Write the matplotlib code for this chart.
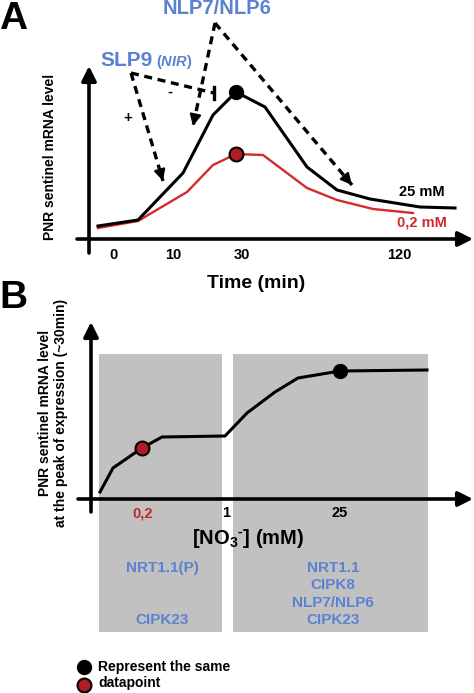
import matplotlib
matplotlib.use("Agg")
import matplotlib.pyplot as plt
from matplotlib.patches import Rectangle

plt.rcParams['font.family'] = ['Liberation Sans', 'DejaVu Sans']
plt.rcParams['font.weight'] = 'bold'
plt.rcParams['mathtext.fontset'] = 'custom'
plt.rcParams['mathtext.rm'] = 'Liberation Sans:bold'
plt.rcParams['mathtext.bf'] = 'Liberation Sans:bold'
plt.rcParams['mathtext.it'] = 'Liberation Sans:bold:italic'
plt.rcParams['mathtext.default'] = 'bf'

# ---------------- data (schematic units) ----------------
# Panel A: time course (x = schematic position, y = relative level)
time_x_25 = [9, 49, 94, 124, 147, 176, 218, 248, 281, 331, 366]
level_25 = [13, 19, 66, 124, 147, 132, 72, 49, 40, 32, 31]
time_x_02 = [9, 49, 98, 124, 147, 174, 218, 248, 284, 324]
level_02 = [11, 18, 47, 74, 85, 84, 51, 39, 30, 26]
peak_x = 147
peak_25 = 147
peak_02 = 85
a_tick_pos = [24, 84, 153, 310]
a_tick_labels = ['0', '10', '30', '120']

# Panel B: dose response at peak
conc_x = [9, 22, 51, 71, 134, 156, 184, 207, 249, 336]
resp = [7, 31, 51, 62, 63, 86, 107, 121, 128, 129]
b_tick_pos = [52, 135, 249]
b_tick_labels = ['0,2', '1', '25']
b_tick_colors = ['#c0282d', 'black', 'black']
red_pt = (51, 51)
black_pt = (249, 128)
regions = [(8, 131), (142, 337)]
region_ymin, region_ymax = -133, 145

BLUE = '#5b82d2'
RED = '#d42a2a'
DOTRED = '#b01c24'
GRAY = '#c1c1c1'

W, H = 474, 693
fig = plt.figure(figsize=(W / 100, H / 100), dpi=100)


def add_axes_px(x0, x1, y0, y1):
    return fig.add_axes([x0 / W, 1 - y1 / H, (x1 - x0) / W, (y1 - y0) / H])


def ftext(px, py, s, **kw):
    return fig.text(px / W, 1 - py / H, s, **kw)


def axis_arrow(ax, p0, p1):
    ax.annotate('', xy=p1, xytext=p0, annotation_clip=False,
                arrowprops=dict(arrowstyle='-|>', lw=2.6, color='black',
                                mutation_scale=22, shrinkA=0, shrinkB=0))


def dashed_arrow(ax, p0, p1, head=True):
    ax.plot([p0[0], p1[0]], [p0[1], p1[1]], ls=(0, (2.4, 1.7)), lw=2.4,
            color='black', clip_on=False, solid_capstyle='butt')
    if head:
        dx, dy = p1[0] - p0[0], p1[1] - p0[1]
        n = (dx * dx + dy * dy) ** 0.5
        q = (p1[0] - dx / n * 6, p1[1] - dy / n * 6)
        ax.annotate('', xy=p1, xytext=q, annotation_clip=False,
                    arrowprops=dict(arrowstyle='-|>', lw=1.5, color='black',
                                    mutation_scale=17, shrinkA=0, shrinkB=0))


# ---------------- Panel A ----------------
axA = add_axes_px(77, 473, 60, 262)
axA.set_xlim(-12, 384)
axA.set_ylim(-23, 179)
axA.axis('off')

axA.plot(time_x_02, level_02, color=RED, lw=1.7, zorder=3)
axA.plot(time_x_25, level_25, color='black', lw=2.2, zorder=3)
axA.plot([peak_x], [peak_25], 'o', ms=10, color='black', zorder=5)
axA.plot([peak_x], [peak_02], 'o', ms=10, mfc=DOTRED, mec='black', mew=1.5, zorder=5)

axis_arrow(axA, (0, -14), (0, 173))
axis_arrow(axA, (-12, 0), (384, 0))

for p, lab in zip(a_tick_pos, a_tick_labels):
    axA.text(p, -16, lab, ha='center', va='center', fontsize=10.5,
             fontweight='bold', clip_on=False)

# regulatory arrows
slp = (42, 166)
nlp = (126, 216)
dashed_arrow(axA, slp, (74, 58))
dashed_arrow(axA, slp, (125, 146), head=False)
axA.plot([125, 125], [140, 152], color='black', lw=2.4, clip_on=False)
dashed_arrow(axA, nlp, (104, 113))
dashed_arrow(axA, nlp, (263, 54))
axA.text(39, 121, '+', ha='center', va='center', fontsize=11, clip_on=False)
axA.text(81, 147, '-', ha='center', va='center', fontsize=11, clip_on=False)

ftext(217, 8, 'NLP7/NLP6', ha='center', va='center', fontsize=14.5, color=BLUE)
ftext(153, 61, 'SLP9', ha='right', va='center', fontsize=15, color=BLUE)
ftext(156, 62, r'($\mathit{NIR}$)', ha='left', va='center', fontsize=10.5, color=BLUE)

ftext(422, 192, '25 mM', ha='center', va='center', fontsize=10.5)
ftext(422, 223, '0,2 mM', ha='center', va='center', fontsize=10.5, color=RED)
ftext(256, 283, 'Time (min)', ha='center', va='center', fontsize=14)
ftext(50, 157, 'PNR sentinel mRNA level', ha='center', va='center',
      fontsize=10, rotation=90)
ftext(-1, 1, 'A', ha='left', va='top', fontsize=28)

# ---------------- Panel B ----------------
axB = add_axes_px(78, 473, 318, 640)
axB.set_xlim(-13, 382)
axB.set_ylim(-141, 181)
axB.axis('off')

for x0, x1 in regions:
    axB.add_patch(Rectangle((x0, region_ymin), x1 - x0, region_ymax - region_ymin,
                            facecolor=GRAY, edgecolor='none', zorder=0))

axB.plot(conc_x, resp, color='black', lw=2.2, zorder=3)
axB.plot([red_pt[0]], [red_pt[1]], 'o', ms=10, mfc=DOTRED, mec='black', mew=1.5, zorder=5)
axB.plot([black_pt[0]], [black_pt[1]], 'o', ms=10, color='black', zorder=5)

axis_arrow(axB, (0, -13), (0, 177))
axis_arrow(axB, (-13, 0), (382, 0))

for p, lab, c in zip(b_tick_pos, b_tick_labels, b_tick_colors):
    axB.text(p, -14, lab, ha='center', va='center', fontsize=10.5,
             color=c, clip_on=False)

ftext(248, 538, '[NO$_3$$^{\u2010}$] (mM)', ha='center', va='center', fontsize=14.5)
ftext(53, 413, 'PNR sentinel mRNA level\nat the peak of expression (~30min)',
      ha='center', va='center', fontsize=10, rotation=90, linespacing=1.1)
ftext(-1, 280, 'B', ha='left', va='top', fontsize=28)

ftext(162, 568, 'NRT1.1(P)', ha='center', va='center', fontsize=11, color=BLUE)
ftext(162, 620, 'CIPK23', ha='center', va='center', fontsize=11, color=BLUE)
for py, s in zip([568, 585, 603, 620], ['NRT1.1', 'CIPK8', 'NLP7/NLP6', 'CIPK23']):
    ftext(333, py, s, ha='center', va='center', fontsize=11, color=BLUE)

# legend
axB.plot([-7], [-168], 'o', ms=10, color='black', clip_on=False)
axB.plot([-7], [-186], 'o', ms=10, mfc=DOTRED, mec='black', mew=1.5, clip_on=False)
ftext(98, 667, 'Represent the same', ha='left', va='center', fontsize=10)
ftext(98, 683, 'datapoint', ha='left', va='center', fontsize=10)

fig.savefig('out.png', dpi=100)
